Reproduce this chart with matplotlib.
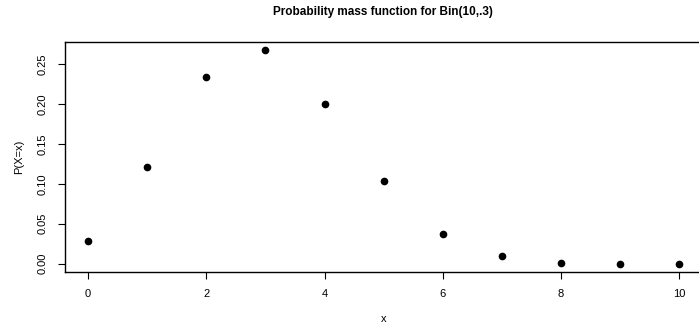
import matplotlib.pyplot as plt

# Bin(10, .3) probabilities
x_vals = [0, 1, 2, 3, 4, 5, 6, 7, 8, 9, 10]
pmf = [0.0282, 0.1211, 0.2335, 0.2668, 0.2001, 0.1029, 0.0368, 0.0090, 0.0014, 0.0001, 0.0000]
xticks = [0, 2, 4, 6, 8, 10]
yticks = [0.00, 0.05, 0.10, 0.15, 0.20, 0.25]

plt.rcParams['font.family'] = ['Liberation Sans', 'DejaVu Sans']

fig = plt.figure(figsize=(6.99, 3.25), dpi=100)
ax = fig.add_axes([0.0923, 0.1625, 0.913, 0.7085])

ax.plot(x_vals, pmf, 'o', color='black', markersize=4.5)
ax.set_xlim(-0.4, 10.4)
ax.set_ylim(-0.01067, 0.2775)

ax.set_xticks(xticks)
ax.set_xticklabels([str(t) for t in xticks])
ax.set_yticks(yticks)
ax.set_yticklabels(['%.2f' % t for t in yticks], rotation=90, va='center')
ax.tick_params(direction='out', length=5, width=0.8, labelsize=8, pad=7)

for s in ax.spines.values():
    s.set_linewidth(1.0)

ax.set_xlabel('x', fontsize=8, labelpad=11)
ax.set_ylabel('P(X=x)', fontsize=8, labelpad=10)
fig.text(0.548, 0.962, 'Probability mass function for Bin(10,.3)',
         ha='center', va='center', fontsize=8.5, fontweight='bold')

fig.savefig('out.png', dpi=100)
